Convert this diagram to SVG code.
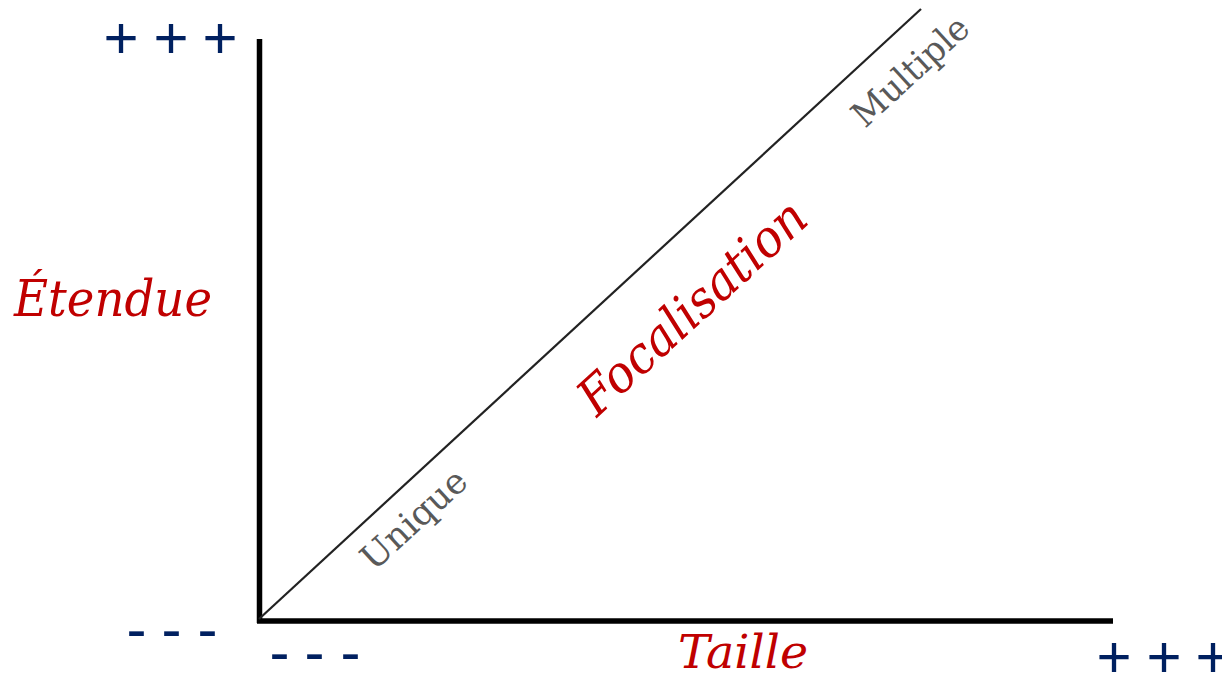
<svg xmlns="http://www.w3.org/2000/svg" width="1222" height="680" viewBox="0 0 1222 680">
<style>
.axis{stroke:#000;stroke-width:5.5;fill:none}
.diag{stroke:#222;stroke-width:2.2;fill:none}
.sign{font-family:"Liberation Sans",Arial,sans-serif;font-size:60px;fill:#002060;text-anchor:middle}
.red{font-family:"DejaVu Serif","Liberation Serif",serif;font-style:italic;fill:#C00000}
.gray{font-family:"DejaVu Serif","Liberation Serif",serif;fill:#595959}
</style>
<rect width="1222" height="680" fill="#fff"/>
<g id="connectors">
<line class="axis" x1="259.5" y1="39" x2="259.5" y2="623"/>
<line class="axis" x1="257" y1="621" x2="1113" y2="621"/>
<line class="diag" x1="259" y1="619" x2="921" y2="9"/>
</g>
<g id="y-axis-label"><text class="red" x="14" y="316" font-size="51" textLength="198" lengthAdjust="spacingAndGlyphs">Étendue</text></g>
<g id="x-axis-label"><text class="red" x="678" y="668" font-size="46" textLength="130" lengthAdjust="spacingAndGlyphs">Taille</text></g>
<g id="focalisation"><text class="red" font-size="51" textLength="290" lengthAdjust="spacingAndGlyphs" transform="translate(597,418) rotate(-42.5)">Focalisation</text></g>
<g id="unique"><text class="gray" font-size="35" textLength="130" lengthAdjust="spacingAndGlyphs" transform="translate(374,572) rotate(-42.5)">Unique</text></g>
<g id="multiple"><text class="gray" font-size="35" textLength="145" lengthAdjust="spacingAndGlyphs" transform="translate(865,129) rotate(-42.5)">Multiple</text></g>
<g id="y-max"><text class="sign" x="121 171 220" y="58">+++</text></g>
<g id="y-min"><text class="sign" x="136.5 171.5 207.5" y="649">---</text></g>
<g id="x-min"><text class="sign" x="279.5 314.5 350.5" y="672">---</text></g>
<g id="x-max"><text class="sign" x="1114 1164 1213" y="677">+++</text></g>
</svg>
